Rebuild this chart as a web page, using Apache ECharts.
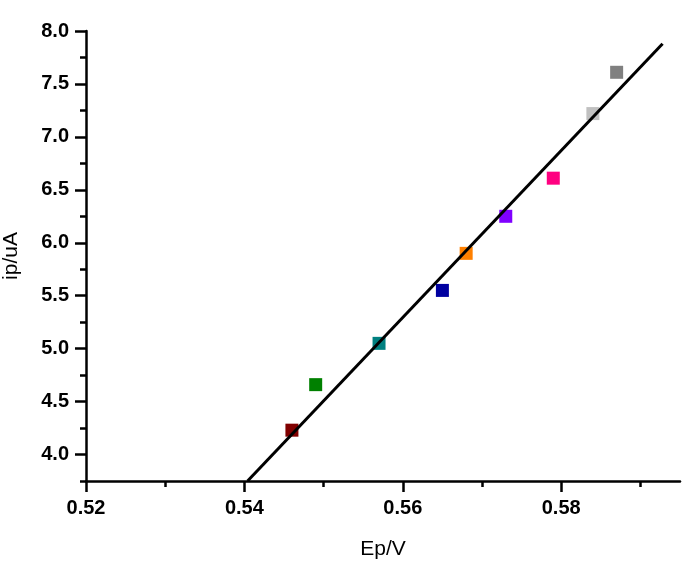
<!DOCTYPE html>
<html>
<head>
<meta charset="utf-8">
<script src="https://cdn.jsdelivr.net/npm/echarts@6/dist/echarts.min.js"></script>
<style>
    html, body { margin: 0; padding: 0; background: #fff; }
    #chart_main { width: 682px; height: 563px; }
</style>
</head>
<body>
<div id="chart_main"></div>
<script>
// measured points, Ep (V) vs ip (uA)
var epValues = [0.546, 0.549, 0.557, 0.565, 0.568, 0.573, 0.579, 0.584, 0.587];
var ipValues = [4.23, 4.66, 5.05, 5.55, 5.90, 6.25, 6.61, 7.22, 7.61];
var pointColors = ['#800000', '#008000', '#008080', '#0000a0', '#ff8000', '#8000ff', '#ff0080', '#c0c0c0', '#808080'];

// fitted line ends
var fitEp = [0.5404, 0.5928];
var fitIp = [3.75, 7.88];

// ticks
var xTicks = [0.52, 0.54, 0.56, 0.58];
var xMinorTicks = [0.53, 0.55, 0.57, 0.59];
var yTicks = [4.0, 4.5, 5.0, 5.5, 6.0, 6.5, 7.0, 7.5, 8.0];
var yMinorTicks = [3.75, 4.25, 4.75, 5.25, 5.75, 6.25, 6.75, 7.25, 7.75];

var xMin = 0.52, xMax = 0.595;
var yMin = 3.75, yMax = 8.0;

var font = 'Liberation Sans, Arial, sans-serif';

function zip(a, b) {
    var out = [];
    for (var i = 0; i < a.length; i++) {
        out.push([a[i], b[i]]);
    }
    return out;
}

var myChart = echarts.init(document.getElementById('chart_main'));

var option = {
    animation: false,
    backgroundColor: '#fff',
    grid: {
        left: 86,
        right: 2,
        top: 31,
        bottom: 82,
        outerBoundsMode: 'none'
    },
    xAxis: [{
        type: 'value',
        min: xMin,
        max: xMax,
        name: 'Ep/V',
        nameLocation: 'middle',
        nameGap: 58,
        nameTextStyle: { color: '#000', fontSize: 21, fontFamily: font },
        axisLine: { lineStyle: { color: '#000', width: 2.5 } },
        axisTick: { length: 11, customValues: xTicks, lineStyle: { color: '#000', width: 2.5 } },
        axisLabel: {
            customValues: xTicks,
            margin: 17,
            color: '#000',
            fontSize: 20,
            fontWeight: 'bold',
            fontFamily: font,
            formatter: function (v) { return v.toFixed(2); }
        },
        splitLine: { show: false }
    }, {
        type: 'value',
        position: 'bottom',
        min: xMin,
        max: xMax,
        axisLine: { show: false },
        axisTick: { length: 6, customValues: xMinorTicks, lineStyle: { color: '#000', width: 2.5 } },
        axisLabel: { show: false },
        splitLine: { show: false }
    }],
    yAxis: [{
        type: 'value',
        min: yMin,
        max: yMax,
        name: 'ip/uA',
        nameLocation: 'middle',
        nameGap: 64,
        nameTextStyle: { color: '#000', fontSize: 21, fontFamily: font },
        axisLine: { lineStyle: { color: '#000', width: 2.5 } },
        axisTick: { length: 11, customValues: yTicks, lineStyle: { color: '#000', width: 2.5 } },
        axisLabel: {
            customValues: yTicks,
            margin: 17,
            color: '#000',
            fontSize: 20,
            fontWeight: 'bold',
            fontFamily: font,
            formatter: function (v) { return v.toFixed(1); }
        },
        splitLine: { show: false }
    }, {
        type: 'value',
        position: 'left',
        min: yMin,
        max: yMax,
        axisLine: { show: false },
        axisTick: { length: 6, customValues: yMinorTicks, lineStyle: { color: '#000', width: 2.5 } },
        axisLabel: { show: false },
        splitLine: { show: false }
    }],
    series: [{
        type: 'scatter',
        data: zip(epValues, ipValues),
        symbol: 'rect',
        symbolSize: 13,
        itemStyle: {
            color: function (p) { return pointColors[p.dataIndex]; },
            opacity: 1
        },
        z: 2
    }, {
        type: 'line',
        data: zip(fitEp, fitIp),
        showSymbol: false,
        symbol: 'none',
        lineStyle: { color: '#000', width: 3 },
        z: 3
    }]
};

myChart.setOption(option);
</script>
</body>
</html>
